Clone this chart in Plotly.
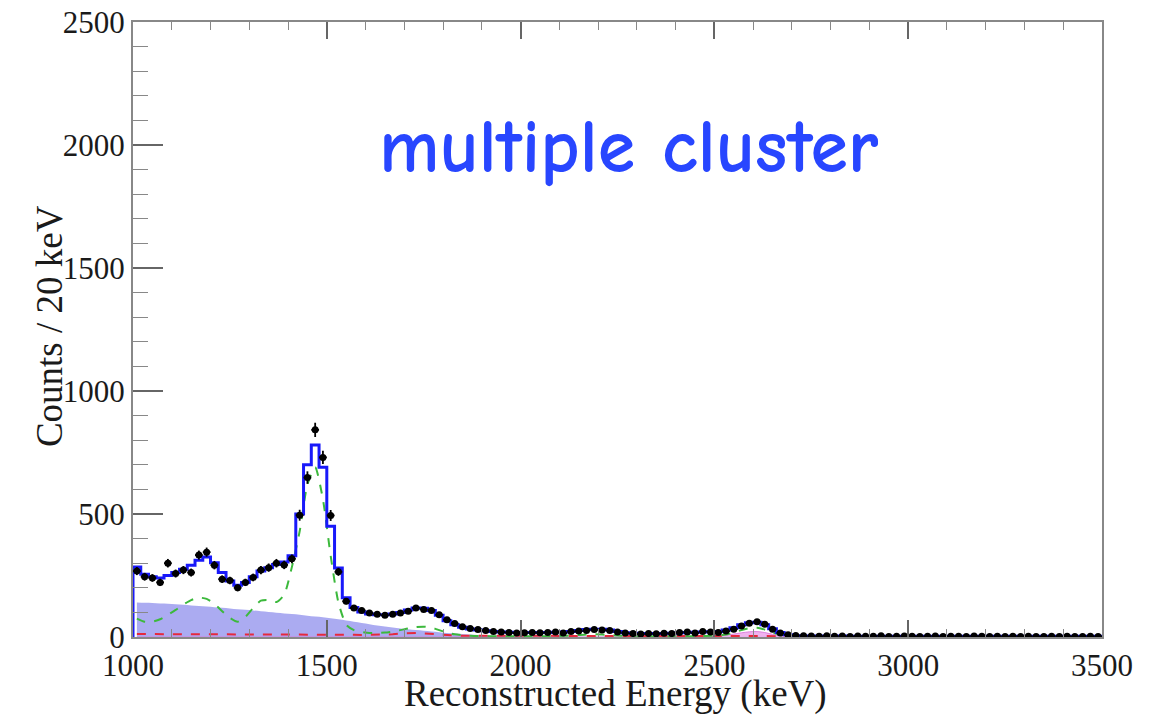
import numpy as np
import plotly.graph_objects as go

# ---- binning ----
E_MIN = 1000
E_MAX = 3500
BIN_W = 20

# ---- data (counts per 20 keV bin, bins 1000-1020 ... 3480-3500) ----
data_counts = [
    268, 245, 240, 222, 300, 258, 272, 262, 333, 345,
    292, 235, 230, 200, 222, 242, 272, 282, 300, 293,
    318, 495, 648, 842, 730, 494, 265, 145, 118, 108,
    98, 92, 88, 92, 98, 105, 118, 112, 108, 90,
    70, 55, 42, 35, 30, 26, 22, 20, 18, 16,
    17, 18, 17, 18, 20, 16, 22, 24, 26, 30,
    28, 26, 20, 16, 14, 12, 14, 13, 15, 14,
    18, 20, 16, 22, 20, 18, 24, 32, 45, 56,
    62, 52, 32, 16, 9, 6, 5, 4, 3, 5,
    3, 4, 2, 4, 3, 3, 5, 2, 3, 4,
    3, 2, 3, 4, 2, 3, 3, 2, 4, 3,
    2, 3, 2, 3, 2, 3, 2, 2, 3, 2,
    3, 2, 2, 3, 2,
]

# total fit
total_fit = [
    285, 255, 245, 240, 250, 262, 275, 292, 312, 325,
    302, 262, 228, 210, 222, 245, 268, 282, 295, 305,
    330, 500, 700, 780, 690, 450, 280, 160, 120, 102,
    94, 90, 90, 93, 100, 110, 118, 117, 108, 88,
    66, 50, 40, 33, 28, 25, 22, 20, 19, 18,
    18, 18, 18, 18, 19, 20, 22, 26, 30, 32,
    31, 28, 22, 17, 15, 14, 14, 14, 14, 15,
    17, 18, 19, 20, 21, 22, 28, 38, 50, 58,
    60, 50, 34, 18, 9, 5, 4, 4, 4, 4,
    4, 4, 3, 3, 3, 3, 3, 3, 3, 3,
    3, 3, 3, 3, 3, 3, 3, 3, 3, 3,
    3, 3, 3, 3, 3, 3, 3, 3, 3, 3,
    3, 3, 3, 3, 3,
]

# green dashed component
green_comp = [
    75, 62, 62, 72, 90, 110, 132, 150, 160, 155,
    135, 105, 78, 62, 82, 118, 148, 150, 142, 172,
    285, 430, 620, 690, 560, 330, 140, 50, 28, 20,
    16, 16, 18, 22, 28, 35, 40, 42, 38, 28,
    18, 11, 7, 5, 4, 4, 3, 3, 3, 3,
    3, 3, 3, 3, 4, 5, 6, 8, 10, 11,
    10, 8, 6, 4, 3, 3, 3, 3, 3, 3,
    3, 3, 4, 4, 5, 6, 10, 18, 28, 36,
    38, 30, 18, 8, 3, 2, 1, 1, 1, 1,
    1, 1, 1, 1, 1, 1, 1, 1, 1, 1,
    1, 1, 1, 1, 1, 1, 1, 1, 1, 1,
    1, 1, 1, 1, 1, 1, 1, 1, 1, 1,
    1, 1, 1, 1, 1,
]

# blue shaded continuum
continuum = [
    140, 139, 138, 136, 135, 133, 131, 128, 126, 124,
    121, 119, 116, 113, 111, 108, 105, 102, 99, 96,
    93, 90, 86, 83, 80, 76, 72, 67, 62, 57,
    52, 47, 43, 39, 35, 31, 28, 25, 22, 19,
    16, 14, 12, 10, 8, 7, 6, 5, 4, 3,
    3, 2, 2, 2, 2, 1, 1, 1, 1, 1,
    1, 1, 1, 1, 1, 1, 1, 1, 1, 1,
    1, 1, 1, 1, 1, 1, 1, 1, 1, 1,
    1, 1, 1, 1, 1, 1, 1, 1, 1, 1,
    1, 1, 1, 1, 1, 1, 1, 1, 1, 1,
    1, 1, 1, 1, 1, 1, 1, 1, 1, 1,
    1, 1, 1, 1, 1, 1, 1, 1, 1, 1,
    1, 1, 1, 1, 1,
]

# red dashed component
red_comp = [
    12, 12, 12, 12, 12, 12, 12, 12, 12, 12,
    12, 12, 12, 11, 11, 11, 11, 11, 11, 11,
    10, 10, 10, 10, 10, 9, 9, 9, 9, 8,
    8, 8, 9, 11, 14, 16, 16, 15, 12, 9,
    7, 6, 5, 5, 4, 4, 4, 4, 3, 3,
    3, 3, 3, 3, 3, 3, 3, 3, 3, 3,
    3, 3, 3, 3, 3, 3, 3, 3, 3, 3,
    3, 3, 3, 3, 3, 3, 3, 3, 3, 3,
    3, 3, 3, 3, 2, 2, 2, 2, 2, 2,
    2, 2, 2, 2, 2, 2, 2, 2, 2, 2,
    2, 2, 2, 2, 2, 2, 2, 2, 2, 2,
    2, 2, 2, 2, 2, 2, 2, 2, 2, 2,
    2, 2, 2, 2, 2,
]

# pink filled component (2615 keV peak region)
pink_comp = [0] * 74 + [
    2, 4, 7, 12, 17, 21,
    22, 18, 11, 5, 2,
] + [0] * 40

x_ticks = [1000, 1500, 2000, 2500, 3000, 3500]
y_ticks = [0, 500, 1000, 1500, 2000, 2500]

label_text = "multiple cluster"
x_title = "Reconstructed Energy (keV)"
y_title = "Counts / 20 keV"

# ---- derived positions ----
edges = np.arange(E_MIN, E_MAX + BIN_W, BIN_W)
centers = edges[:-1] + BIN_W / 2


def step_xy(vals):
    xs = [edges[0]] + list(edges)
    ys = [0] + list(vals) + [vals[-1]]
    return xs, ys


fig = go.Figure()

# shaded continuum
fig.add_trace(go.Scatter(
    x=centers, y=continuum, mode="lines", line=dict(width=0, shape="spline"),
    fill="tozeroy", fillcolor="rgba(150,150,238,0.8)", hoverinfo="skip"))

# pink component
fig.add_trace(go.Scatter(
    x=centers, y=pink_comp, mode="lines", line=dict(width=1, color="rgba(220,120,220,0.9)", shape="spline"),
    fill="tozeroy", fillcolor="rgba(235,160,235,0.8)", hoverinfo="skip"))

# red dashed
fig.add_trace(go.Scatter(
    x=centers, y=red_comp, mode="lines",
    line=dict(width=2, color="rgb(230,40,60)", dash="dash")))

# green dashed
fig.add_trace(go.Scatter(
    x=centers, y=green_comp, mode="lines",
    line=dict(width=2, color="rgb(60,185,60)", dash="dash", shape="spline", smoothing=0.6)))

# total fit (step)
sx, sy = step_xy(total_fit)
fig.add_trace(go.Scatter(
    x=sx, y=sy, mode="lines", line=dict(width=3, color="rgb(25,25,250)", shape="hv")))

# data
fig.add_trace(go.Scatter(
    x=centers, y=data_counts, mode="markers",
    marker=dict(size=7, color="black"),
    error_y=dict(type="data", array=np.sqrt(np.array(data_counts, dtype=float)),
                 color="black", thickness=1.8, width=0),
    error_x=dict(type="constant", value=BIN_W / 2, color="black", thickness=1.8, width=0)))

axis_font = dict(family="Liberation Serif, Times New Roman, serif", size=31, color="#1a1a1a")

fig.update_xaxes(
    range=[E_MIN, E_MAX], tickvals=x_ticks, ticktext=[str(v) for v in x_ticks],
    ticks="inside", ticklen=17, tickwidth=1.5, tickcolor="#666",
    minor=dict(ticks="inside", ticklen=8, dtick=100, tickcolor="#888", tickwidth=1.2),
    showline=True, linecolor="#888", linewidth=2, mirror="ticks",
    showgrid=False, zeroline=False, tickfont=axis_font, automargin=False,
    ticklabeloverflow="allow")

fig.update_yaxes(
    range=[0, 2500], tickvals=y_ticks, ticktext=[str(v) for v in y_ticks],
    ticks="inside", ticklen=30, tickwidth=1.5, tickcolor="#666",
    minor=dict(ticks="inside", ticklen=15, dtick=100, tickcolor="#888", tickwidth=1.2),
    showline=True, linecolor="#888", linewidth=2, mirror=True,
    showgrid=False, zeroline=False, tickfont=axis_font, automargin=False,
    ticklabeloverflow="allow")

fig.add_annotation(
    x=2280, y=1990, xref="x", yref="y", text=f"<b>{label_text}</b>", showarrow=False,
    font=dict(family="Comic Sans MS, Comic Neue, Lato, sans-serif", size=76,
              color="rgb(40,70,255)", weight="bold"),
    xanchor="center", yanchor="middle")

fig.add_annotation(
    x=0.498, y=-0.092, xref="paper", yref="paper", text=x_title, showarrow=False,
    font=dict(family="Liberation Serif, Times New Roman, serif", size=37, color="#1a1a1a"),
    xanchor="center", yanchor="middle")

fig.add_annotation(
    x=-0.086, y=0.505, xref="paper", yref="paper", text=y_title, showarrow=False, textangle=-90,
    font=dict(family="Liberation Serif, Times New Roman, serif", size=37, color="#1a1a1a"),
    xanchor="center", yanchor="middle")

# page body adds an 8px offset; margins compensate so the frame lands where the reference has it
fig.update_layout(
    width=1154, height=716,
    margin=dict(l=125, r=60, t=14, b=87),
    paper_bgcolor="white", plot_bgcolor="white",
    showlegend=False)

fig.write_html("out.html")
